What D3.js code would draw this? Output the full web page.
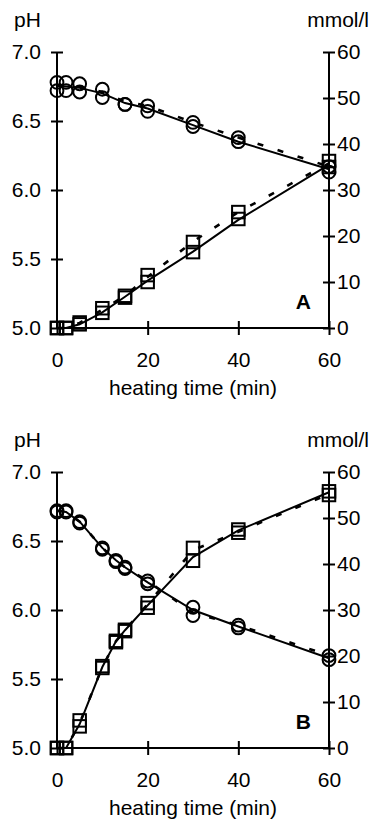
<!DOCTYPE html>
<html>
<head>
<meta charset="utf-8">
<script src="https://cdn.jsdelivr.net/npm/d3@7"></script>
<style>
  html, body { margin: 0; padding: 0; background: #fff; }
  svg { display: block; }
  text { font-family: "Liberation Sans", Arial, sans-serif; fill: #000; }
</style>
</head>
<body>
<svg id="chart" width="370" height="820"></svg>
<script>
// ---------- Data ----------
const xTicks = [0, 20, 40, 60];
const pHTicks = [5.0, 5.5, 6.0, 6.5, 7.0];
const mmolTicks = [0, 10, 20, 30, 40, 50, 60];

// Panel A
const timeA = [0, 2, 5, 10, 15, 20, 30, 40, 60];
const pHA_markers1 = [6.78, 6.78, 6.77, 6.73, 6.62, 6.61, 6.49, 6.38, 6.17];
const pHA_markers2 = [6.72, 6.72, 6.71, 6.67, 6.62, 6.57, 6.46, 6.35, 6.13];
const pHA_solid   = [6.75, 6.75, 6.74, 6.70, 6.63, 6.59, 6.47, 6.35, 6.15];
const pHA_dashed  = [6.76, 6.76, 6.75, 6.71, 6.64, 6.61, 6.49, 6.38, 6.17];
const mmolA_markers1 = [0, 0, 1.2, 4.3, 7.0, 11.5, 18.7, 25.2, 36.3];
const mmolA_markers2 = [0, 0, 0.8, 3.3, 6.6, 10.0, 16.5, 23.7, 35.0];
const mmolA_solid  = [0, 0, 0.8, 3.4, 6.8, 10.3, 16.6, 23.5, 35.5];
const mmolA_dashed = [0, 0, 1.1, 4.0, 7.0, 11.1, 18.8, 25.2, 35.8];

// Panel B
const timeB = [0, 2, 5, 10, 13, 15, 20, 30, 40, 60];
const pHB_markers1 = [6.72, 6.72, 6.64, 6.45, 6.36, 6.31, 6.21, 6.02, 5.89, 5.67];
const pHB_markers2 = [6.71, 6.71, 6.63, 6.44, 6.35, 6.30, 6.19, 5.96, 5.87, 5.64];
const pHB_solid   = [6.72, 6.71, 6.64, 6.45, 6.36, 6.31, 6.20, 6.00, 5.88, 5.65];
const pHB_dashed  = [6.72, 6.71, 6.64, 6.45, 6.36, 6.31, 6.21, 5.98, 5.89, 5.67];
const mmolB_markers1 = [0, 0, 6.0, 17.8, 23.3, 25.7, 31.5, 43.5, 47.5, 55.8];
const mmolB_markers2 = [0, 0, 4.7, 17.4, 23.0, 25.4, 30.5, 40.7, 46.8, 55.0];
const mmolB_solid  = [0, 0, 5.2, 17.6, 23.2, 25.6, 31.0, 41.5, 47.3, 55.6];
const mmolB_dashed = [0, 0, 5.4, 17.6, 23.2, 25.6, 31.3, 43.0, 47.0, 55.2];

const panels = [
  { label: "A", top: 0, time: timeA,
    pHM: [pHA_markers1, pHA_markers2], pHSolid: pHA_solid, pHDashed: pHA_dashed,
    mmolM: [mmolA_markers1, mmolA_markers2], mmolSolid: mmolA_solid, mmolDashed: mmolA_dashed },
  { label: "B", top: 420, time: timeB,
    pHM: [pHB_markers1, pHB_markers2], pHSolid: pHB_solid, pHDashed: pHB_dashed,
    mmolM: [mmolB_markers1, mmolB_markers2], mmolSolid: mmolB_solid, mmolDashed: mmolB_dashed }
];

// ---------- Drawing ----------
const svg = d3.select("#chart");
const L = 57, R = 329, T = 52, B = 328;
const FS = 21;

panels.forEach(p => {
  const g = svg.append("g").attr("transform", `translate(0,${p.top})`);
  const x = d3.scaleLinear().domain([0, 60]).range([L, R]);
  const yL = d3.scaleLinear().domain([5, 7]).range([B, T]);
  const yR = d3.scaleLinear().domain([0, 60]).range([B, T]);

  const axL = g.append("g").attr("transform", `translate(${L},0)`)
    .call(d3.axisLeft(yL).tickValues(pHTicks).tickFormat(d3.format(".1f")).tickSize(6).tickPadding(10));
  const axR = g.append("g").attr("transform", `translate(${R},0)`)
    .call(d3.axisRight(yR).tickValues(mmolTicks).tickFormat(d3.format("d")).tickSize(6).tickPadding(2));
  const axB = g.append("g").attr("transform", `translate(0,${B})`)
    .call(d3.axisBottom(x).tickValues(xTicks).tickFormat(d3.format("d")).tickSize(7).tickPadding(0));

  [axL, axR, axB].forEach(a => {
    a.select(".domain").remove();
    a.selectAll("text").attr("font-size", FS).attr("font-family", "Liberation Sans, Arial, sans-serif").attr("fill", "#000");
    a.selectAll("line").attr("stroke", "#000").attr("stroke-width", 2);
  });
  axL.selectAll(".tick line").attr("x1", -6).attr("x2", 6);
  axR.selectAll(".tick line").attr("x1", -6).attr("x2", 6);
  axB.selectAll(".tick line").attr("y1", -7).attr("y2", 7);
  axB.selectAll(".tick text").attr("y", 24).attr("dy", "0.71em");

  g.append("line").attr("x1", L).attr("x2", L).attr("y1", T).attr("y2", B).attr("stroke", "#000").attr("stroke-width", 2);
  g.append("line").attr("x1", R).attr("x2", R).attr("y1", T).attr("y2", B).attr("stroke", "#000").attr("stroke-width", 2);
  g.append("line").attr("x1", L).attr("x2", R).attr("y1", B).attr("y2", B).attr("stroke", "#000").attr("stroke-width", 2);

  g.append("text").attr("x", 14).attr("y", 27).attr("font-size", FS).text("pH");
  g.append("text").attr("x", 369).attr("y", 27).attr("font-size", FS).attr("text-anchor", "end").text("mmol/l");
  g.append("text").attr("x", (L + R) / 2).attr("y", 395).attr("font-size", FS).attr("text-anchor", "middle").text("heating time (min)");
  g.append("text").attr("x", 311).attr("y", 309).attr("font-size", FS).attr("font-weight", "bold").attr("text-anchor", "end").text(p.label);

  const lineL = d3.line().x((d, i) => x(p.time[i])).y(d => yL(d));
  const lineR = d3.line().x((d, i) => x(p.time[i])).y(d => yR(d));
  const drawLine = (data, gen, dashed) => g.append("path").datum(data).attr("d", gen)
    .attr("fill", "none").attr("stroke", "#000")
    .attr("stroke-width", dashed ? 2.6 : 2)
    .attr("stroke-dasharray", dashed ? "6,15" : null);
  drawLine(p.pHDashed, lineL, true);
  drawLine(p.mmolDashed, lineR, true);
  drawLine(p.pHSolid, lineL, false);
  drawLine(p.mmolSolid, lineR, false);

  p.pHM.forEach(arr => {
    g.append("g").selectAll("circle").data(arr).join("circle")
      .attr("cx", (d, i) => x(p.time[i])).attr("cy", d => yL(d)).attr("r", 6.4)
      .attr("fill", "none").attr("stroke", "#000").attr("stroke-width", 2);
  });
  const s = 12.5;
  p.mmolM.forEach(arr => {
    g.append("g").selectAll("rect").data(arr).join("rect")
      .attr("x", (d, i) => x(p.time[i]) - s / 2).attr("y", d => yR(d) - s / 2)
      .attr("width", s).attr("height", s)
      .attr("fill", "none").attr("stroke", "#000").attr("stroke-width", 2);
  });
});
</script>
</body>
</html>
